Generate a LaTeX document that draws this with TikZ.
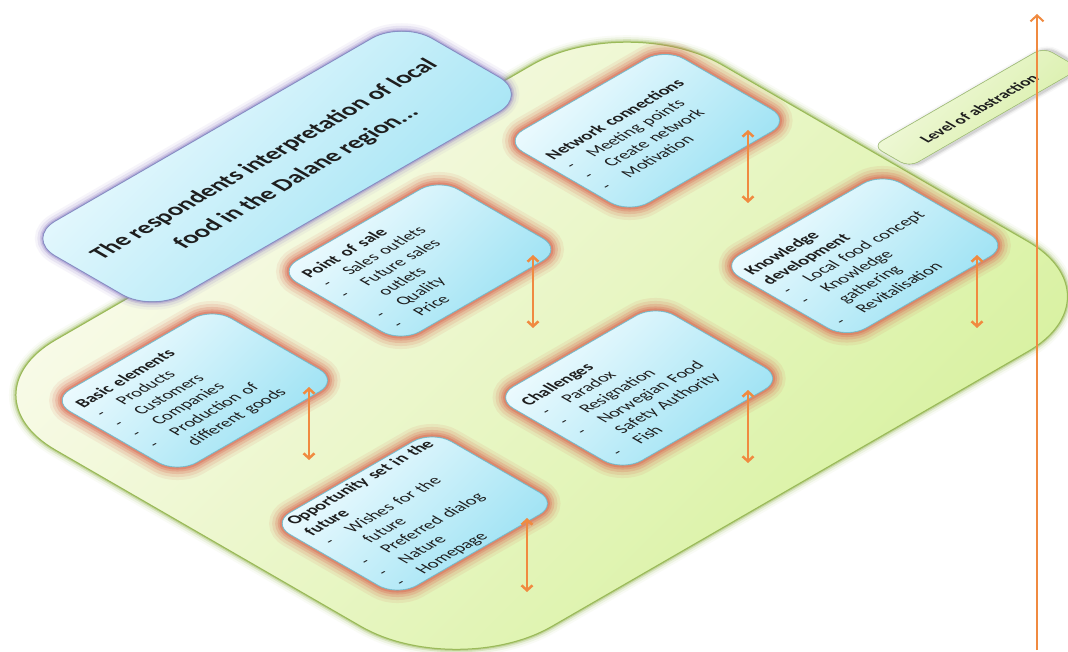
\documentclass[tikz,border=0pt]{standalone}
\usepackage{fontspec}
\setmainfont{Carlito}
\usetikzlibrary{arrows.meta}
\definecolor{plane1}{HTML}{FBFBEE}
\definecolor{plane2}{HTML}{D6F19C}
\definecolor{planeedge}{HTML}{9BBB59}
\definecolor{box1}{HTML}{F2FCFF}
\definecolor{box2}{HTML}{9AE1F3}
\definecolor{boxedge}{HTML}{7ABFCF}
\definecolor{glowred}{HTML}{DA6A55}
\definecolor{glowpurple}{HTML}{8E7CC3}
\definecolor{arroworange}{HTML}{F08A40}
\definecolor{txt}{HTML}{1E1E1E}
\definecolor{lev1}{HTML}{F4FAE2}
\definecolor{lev2}{HTML}{D6EEA4}
\definecolor{levedge}{HTML}{A9C77E}
% rounded rectangle in the isometric frame: u1 v1 u2 v2 radius
\newcommand\rrpath[5]{(#1+#5,-#2) -- (#3-#5,-#2) arc[start angle=90,end angle=0,radius=#5] -- (#3,-#4+#5) arc[start angle=0,end angle=-90,radius=#5] -- (#1+#5,-#4) arc[start angle=-90,end angle=-180,radius=#5] -- (#1,-#2-#5) arc[start angle=180,end angle=90,radius=#5] -- cycle}
\newcommand\itm[1]{\makebox[26pt][l]{\hspace{2pt}-}#1}
\newcommand\cnt[1]{\hspace*{26pt}#1}
\newcommand\isobox[4]{% u1 v1 u2 v2
  \foreach \w/\o in {26/0.10,20/0.15,14/0.22,9/0.3,5/0.45}
    \draw[glowred,line width=\w pt,opacity=\o] \rrpath{#1}{#2}{#3}{#4}{22};
  \fill[top color=box1,bottom color=box2,shading angle=45] \rrpath{#1}{#2}{#3}{#4}{22};
  \draw[boxedge,line width=0.8pt] \rrpath{#1}{#2}{#3}{#4}{22};
}
\tikzset{
  boxtext/.style={transform shape,text width=164pt,align=left,inner sep=0pt,anchor=west,
    font=\fontsize{17}{20.5}\selectfont,text=txt},
  titletext/.style={transform shape,align=center,inner sep=0pt,
    font=\bfseries\fontsize{24}{37}\selectfont,text=txt},
  levtext/.style={transform shape,align=center,inner sep=0pt,
    font=\bfseries\fontsize{16}{19}\selectfont,text=txt},
  biarrow/.style={arroworange,line width=2.5pt,
    {Straight Barb[length=5pt,width=11pt]}-{Straight Barb[length=5pt,width=11pt]}},
  mainarrow/.style={arroworange,line width=2pt,-{Straight Barb[length=6pt,width=13pt]}}
}
\begin{document}
\begin{tikzpicture}[x=1pt,y=1pt]
\useasboundingbox (0,0) rectangle (1068,-652);
\fill[white] (0,0) rectangle (1068,-652);
\begin{scope}[cm={0.866,0.5,-0.866,0.5,(0,0)}]
  % ground plane
  \foreach \w/\o in {14/0.06,10/0.12,6/0.25,3/0.5}
    \draw[planeedge,line width=\w pt,opacity=\o] \rrpath{-418}{372}{352}{945}{110};
  \fill[top color=plane1,bottom color=plane2,shading angle=45] \rrpath{-418}{372}{352}{945}{110};
  \draw[planeedge,line width=1pt] \rrpath{-418}{372}{352}{945}{110};
  % title box
  \foreach \w/\o in {16/0.08,11/0.14,6/0.25,3/0.4}
    \draw[glowpurple,line width=\w pt,opacity=\o] \rrpath{-224}{253}{211}{400}{35};
  \fill[top color=box1,bottom color=box2,shading angle=45] \rrpath{-224}{253}{211}{400}{35};
  \draw[glowpurple!70!boxedge,line width=0.8pt] \rrpath{-224}{253}{211}{400}{35};
  \node[titletext] (title) at (-7,-331) {The respondents interpretation of local\\food in the Dalane region...};
  % six boxes
  \isobox{-371}{430}{-185}{576}
  \node[boxtext] (basic) at (-360,-503) {\textbf{Basic elements}\\\itm{Products}\\\itm{Customers}\\\itm{Companies}\\\itm{Production of}\\\cnt{different goods}};
  \isobox{-111}{432}{75}{574}
  \node[boxtext] (pos) at (-100,-503) {\textbf{Point of sale}\\\itm{Sales outlets}\\\itm{Future sales}\\\cnt{outlets}\\\itm{Quality}\\\itm{Price}};
  \isobox{150}{432}{336}{577}
  \node[boxtext] (net) at (159,-505) {\textbf{Network connections}\\\itm{Meeting points}\\\itm{Create network}\\\itm{Motivation}};
  \isobox{-367}{680}{-181}{826}
  \node[boxtext] (opp) at (-356,-753) {\textbf{Opportunity set in the}\\\textbf{future}\\\itm{Wishes for the}\\\cnt{future}\\\itm{Preferred dialog}\\\itm{Nature}\\\itm{Homepage}};
  \isobox{-112}{683}{74}{831}
  \node[boxtext] (chal) at (-101,-757) {\textbf{Challenges}\\\itm{Paradox}\\\itm{Resignation}\\\itm{Norwegian Food}\\\cnt{Safety Authority}\\\itm{Fish}};
  \isobox{150}{682}{337}{828}
  \node[boxtext] (know) at (159,-755) {\textbf{Knowledge}\\\textbf{development}\\\itm{Local food concept}\\\itm{Knowledge}\\\cnt{gathering}\\\itm{Revitalisation}};
  % level of abstraction
  \foreach \w/\o in {8/0.06,5/0.12,2.5/0.2}
    \draw[gray,line width=\w pt,opacity=\o] \rrpath{360}{652}{557}{694}{10};
  \fill[top color=lev1,bottom color=lev2,shading angle=45] \rrpath{358}{650}{555}{692}{10};
  \draw[levedge,line width=0.6pt] \rrpath{358}{650}{555}{692}{10};
  \node[levtext] (level) at (456.5,-674) {Level of abstraction};
\end{scope}
% double arrows
\coordinate (b1) at (309,-387); \coordinate (b2) at (309,-460);
\coordinate (p1) at (533,-255); \coordinate (p2) at (533,-328);
\coordinate (n1) at (748,-130); \coordinate (n2) at (748,-203);
\coordinate (o1) at (527,-518); \coordinate (o2) at (527,-592);
\coordinate (c1) at (748,-390); \coordinate (c2) at (748,-463);
\coordinate (k1) at (977,-255); \coordinate (k2) at (977,-328);
\draw[biarrow] (b1) -- (b2);
\draw[biarrow] (p1) -- (p2);
\draw[biarrow] (n1) -- (n2);
\draw[biarrow] (o1) -- (o2);
\draw[biarrow] (c1) -- (c2);
\draw[biarrow] (k1) -- (k2);
% main vertical arrow
\coordinate (vb) at (1037,-650); \coordinate (vt) at (1037,-14);
\draw[mainarrow] (vb) -- (vt);
\end{tikzpicture}
\end{document}
